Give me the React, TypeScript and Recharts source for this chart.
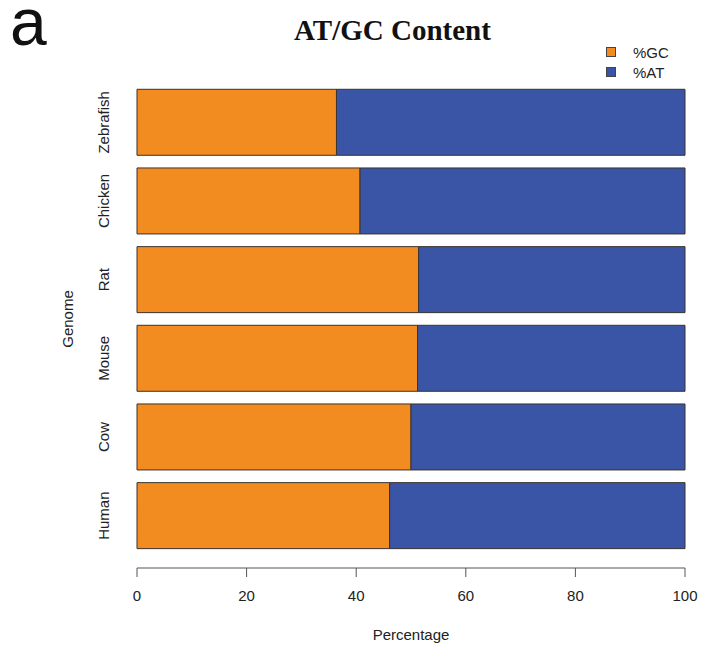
import { BarChart, Bar, XAxis, YAxis, Label } from "recharts";

// GC / AT composition per genome, top to bottom
const genomes = ["Zebrafish", "Chicken", "Rat", "Mouse", "Cow", "Human"];
const gcPercent = [36.4, 40.7, 51.4, 51.2, 50.0, 46.1];
const atPercent = [63.6, 59.3, 48.6, 48.8, 50.0, 53.9];
const xTicks = [0, 20, 40, 60, 80, 100];
const legendItems = ["%GC", "%AT"];

const GC_COLOR = "#f28c20";
const AT_COLOR = "#3a55a5";
const SANS = "'Liberation Sans', Arial, sans-serif";
const BOTTOM_PAD = 13;

const data = genomes.map((genome, i) => ({
  genome,
  gc: gcPercent[i],
  at: atPercent[i],
}));

function GenomeTick({ x, y, payload }: any) {
  return (
    <text
      transform={`translate(${x - 34},${y}) rotate(-90)`}
      textAnchor="middle"
      dominantBaseline="central"
      fontSize={15}
      fontFamily={SANS}
      fill="#222"
    >
      {payload.value}
    </text>
  );
}

// legend sits outside the plot so it doesn't eat into the bar area
function LegendBox() {
  const colors = [GC_COLOR, AT_COLOR];
  return (
    <div
      style={{
        position: "absolute",
        left: 606,
        top: 42,
        fontFamily: SANS,
        fontSize: 15,
        color: "#222",
      }}
    >
      {legendItems.map((label, i) => (
        <div
          key={label}
          style={{ display: "flex", alignItems: "center", height: 20 }}
        >
          <span
            style={{
              width: 8,
              height: 8,
              background: colors[i],
              border: "1px solid #444",
              marginRight: 17,
            }}
          />
          <span>{label}</span>
        </div>
      ))}
    </div>
  );
}

export default function App() {
  return (
    <div
      style={{
        position: "absolute",
        left: 0,
        top: 0,
        width: 701,
        height: 649,
        background: "#fff",
      }}
    >
      <svg
        width={80}
        height={60}
        style={{ position: "absolute", left: 0, top: 0, overflow: "visible" }}
      >
        <text x={10} y={45} fontSize={66} fontFamily={SANS} fill="#111">
          a
        </text>
      </svg>
      <div
        style={{
          position: "absolute",
          left: 0,
          width: 785,
          top: 13,
          textAlign: "center",
          fontFamily: "'Liberation Serif', 'Times New Roman', serif",
          fontWeight: "bold",
          fontSize: 29,
          lineHeight: "34px",
          color: "#111",
        }}
      >
        AT/GC Content
      </div>
      <LegendBox />
      <BarChart
        width={701}
        height={649}
        data={data}
        layout="vertical"
        margin={{ top: 83, right: 16, bottom: 21, left: 80 }}
        barCategoryGap="8%"
        style={{ position: "absolute", left: 0, top: 0 }}
      >
        <XAxis
          type="number"
          domain={[0, 100]}
          ticks={xTicks}
          interval={0}
          height={60}
          tickSize={9}
          tickMargin={13}
          stroke="#555"
          tick={{ fontSize: 15, fontFamily: SANS, fill: "#222" }}
        >
          <Label
            content={({ viewBox }: any) => (
              <text
                x={viewBox.x + viewBox.width / 2}
                y={634}
                textAnchor="middle"
                dominantBaseline="central"
                fontSize={15}
                fontFamily={SANS}
                fill="#222"
              >
                Percentage
              </text>
            )}
          />
        </XAxis>
        <YAxis
          type="category"
          dataKey="genome"
          width={57}
          axisLine={false}
          tickLine={false}
          tickSize={0}
          tickMargin={0}
          padding={{ top: 0, bottom: BOTTOM_PAD }}
          tick={<GenomeTick />}
        >
          <Label
            content={({ viewBox }: any) => (
              <text
                transform={`translate(67,${viewBox.y + (viewBox.height - BOTTOM_PAD) / 2}) rotate(-90)`}
                textAnchor="middle"
                dominantBaseline="central"
                fontSize={15}
                fontFamily={SANS}
                fill="#222"
              >
                Genome
              </text>
            )}
          />
        </YAxis>
        <Bar
          dataKey="gc"
          name="%GC"
          stackId="a"
          fill={GC_COLOR}
          stroke="#3a3330"
          strokeWidth={1}
          isAnimationActive={false}
        />
        <Bar
          dataKey="at"
          name="%AT"
          stackId="a"
          fill={AT_COLOR}
          stroke="#3a3330"
          strokeWidth={1}
          isAnimationActive={false}
        />
      </BarChart>
    </div>
  );
}
